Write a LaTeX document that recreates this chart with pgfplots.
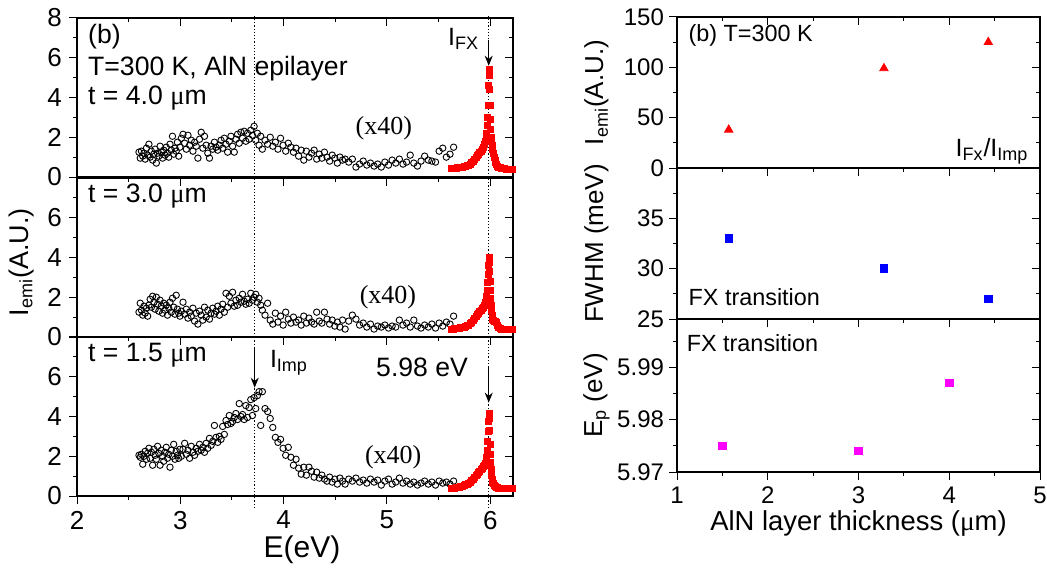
\documentclass[border=0pt]{standalone}
\usepackage{pgfplots}
\pgfplotsset{compat=1.18}
\usepackage{pgfplotstable}
\usepackage{fontspec}
\setmainfont{Liberation Sans}
\newfontfamily\timesf{Liberation Serif}
\usetikzlibrary{arrows.meta}

\pgfplotstableread{
E y1 y2 y3
2.600 1.25 1.25 2.05
2.612 0.95 1.70 1.95
2.624 1.30 1.35 2.10
2.636 1.05 1.10 1.60
2.648 1.20 1.55 2.00
2.660 0.90 1.20 2.25
2.672 1.45 1.45 1.85
2.684 1.10 1.05 2.15
2.696 1.65 1.60 2.40
2.708 1.00 1.90 1.90
2.720 1.30 1.50 2.20
2.732 0.85 2.05 1.55
2.744 1.15 1.75 2.35
2.756 1.40 1.40 2.05
2.768 0.70 2.00 1.85
2.780 1.20 1.65 2.50
2.792 1.05 1.30 2.15
2.804 1.55 1.85 1.55
2.816 1.25 1.55 2.30
2.828 0.95 1.20 2.00
2.840 1.35 1.70 1.75
2.852 1.10 1.35 2.20
2.864 1.50 1.60 2.45
2.876 1.20 1.10 1.90
2.888 1.00 1.45 2.10
2.900 1.65 1.75 1.45
2.912 1.35 1.25 2.30
2.924 2.05 1.95 2.00
2.936 1.15 1.50 2.60
2.948 1.45 1.15 1.85
2.960 1.30 2.10 2.25
2.972 1.75 1.40 2.05
2.984 1.05 1.20 1.90
2.996 1.50 1.05 2.35
3.010 1.95 1.30 2.00
3.026 2.15 1.75 2.35
3.042 1.70 1.15 2.65
3.058 1.40 1.40 2.10
3.074 2.10 0.95 2.30
3.090 1.60 1.25 1.90
3.106 1.85 1.05 2.50
3.122 1.30 1.45 2.20
3.138 1.75 0.80 2.05
3.154 1.55 1.20 2.40
3.170 0.95 0.65 2.25
3.186 1.90 1.30 2.60
3.202 2.25 1.10 2.30
3.218 1.45 0.85 2.45
3.234 2.05 1.50 2.20
3.250 1.60 1.00 2.65
3.266 1.20 1.35 2.40
3.282 0.95 0.90 2.90
3.298 1.55 1.20 2.55
3.314 1.40 1.45 2.75
3.330 1.75 1.15 3.55
3.346 1.50 1.30 2.95
3.362 1.35 1.55 2.70
3.378 1.60 1.10 3.00
3.394 1.85 1.40 2.85
3.410 1.45 1.65 3.50
3.426 1.95 1.25 3.10
3.442 1.65 2.20 3.80
3.458 1.25 1.50 3.60
3.474 1.80 2.05 4.05
3.490 2.05 1.70 3.65
3.506 1.55 2.25 3.75
3.522 1.25 1.55 3.95
3.538 1.90 1.85 4.15
3.554 2.15 1.60 3.85
3.570 1.70 1.95 4.65
3.586 2.25 1.75 4.00
3.602 1.95 2.15 4.10
3.618 2.30 1.80 3.85
3.634 1.80 1.65 4.55
3.650 2.20 1.90 3.95
3.666 1.90 1.70 4.45
3.682 2.35 2.20 4.85
3.698 2.10 1.85 4.05
3.714 2.55 2.00 4.95
3.730 1.85 2.15 4.40
3.746 2.20 1.75 5.05
3.762 1.60 1.95 5.25
3.778 2.05 1.60 3.55
3.794 1.40 1.35 5.25
3.820 1.85 1.10 4.40
3.845 1.65 1.70 4.25
3.870 2.00 0.85 3.90
3.895 1.55 0.65 3.45
3.920 1.75 1.20 2.95
3.945 1.40 0.75 2.70
3.970 1.95 1.05 2.85
3.995 1.60 0.60 2.40
4.020 1.30 1.25 2.05
4.045 1.70 0.90 2.45
4.070 1.50 0.70 1.95
4.095 1.25 1.00 1.55
4.120 1.45 0.75 1.85
4.145 1.05 0.85 1.40
4.170 1.35 0.60 1.10
4.195 0.85 1.05 1.45
4.220 1.30 0.70 1.05
4.245 1.00 0.95 1.45
4.270 1.20 0.75 1.25
4.295 1.35 0.65 0.95
4.320 0.90 1.25 1.20
4.345 1.15 0.80 0.90
4.370 0.95 0.70 1.05
4.395 1.25 1.25 0.85
4.420 1.00 0.90 0.75
4.445 0.80 0.65 0.95
4.470 1.10 0.85 0.70
4.495 0.95 0.55 0.85
4.520 0.70 0.75 0.60
4.545 1.00 0.50 0.90
4.570 0.85 0.85 0.75
4.595 0.90 0.40 0.60
4.630 0.75 0.80 0.85
4.665 0.90 1.10 0.75
4.700 0.50 0.90 0.90
4.735 0.65 0.60 0.70
4.770 0.80 0.70 0.80
4.805 0.60 0.50 0.65
4.840 0.70 0.65 0.85
4.875 0.55 0.40 0.70
4.910 0.65 0.55 0.80
4.945 0.50 0.50 0.55
4.980 0.75 0.60 0.75
5.015 0.60 0.45 0.85
5.050 0.85 0.55 0.60
5.085 0.70 0.50 0.70
5.120 0.90 0.85 0.90
5.155 0.65 0.60 0.65
5.190 0.75 0.70 0.75
5.225 1.10 0.50 0.60
5.260 0.70 0.85 0.70
5.295 0.55 0.55 0.55
5.330 0.80 0.45 0.65
5.365 1.05 0.60 0.75
5.400 0.85 0.50 0.60
5.435 0.80 0.65 0.70
5.470 0.75 0.45 0.55
5.505 1.30 0.70 0.75
5.540 1.45 0.55 0.65
5.575 1.00 0.75 0.70
5.610 1.15 0.65 0.60
5.645 1.50 1.05 0.75
}\circdata

\pgfplotstableread{
E y
5.625 0.42
5.640 0.43
5.655 0.44
5.670 0.45
5.685 0.46
5.700 0.47
5.715 0.48
5.730 0.50
5.745 0.52
5.760 0.54
5.775 0.57
5.790 0.60
5.805 0.65
5.820 0.72
5.835 0.80
5.850 0.90
5.862 1.00
5.874 1.08
5.886 1.15
5.898 1.22
5.910 1.30
5.920 1.40
5.930 1.50
5.940 1.62
5.950 1.78
5.958 1.95
5.965 2.20
5.971 2.60
5.976 3.00
5.980 3.60
5.984 4.60
5.988 5.40
5.991 5.10
5.994 4.40
5.997 3.60
6.000 2.90
6.004 2.40
6.008 2.00
6.013 1.80
6.018 1.60
6.024 1.40
6.030 1.20
6.037 1.00
6.045 0.85
6.053 0.72
6.062 0.62
6.072 0.55
6.082 0.50
6.095 0.46
6.110 0.43
6.125 0.42
6.140 0.41
6.160 0.40
6.180 0.40
6.200 0.40
6.215 0.40
}\redtop

\pgfplotstableread{
E y
5.625 0.40
5.640 0.40
5.655 0.41
5.670 0.42
5.685 0.43
5.700 0.44
5.715 0.46
5.730 0.48
5.745 0.50
5.760 0.53
5.775 0.56
5.790 0.60
5.805 0.66
5.820 0.74
5.835 0.84
5.850 0.95
5.862 1.05
5.874 1.12
5.886 1.20
5.898 1.27
5.910 1.35
5.920 1.42
5.930 1.50
5.940 1.60
5.950 1.72
5.958 1.85
5.965 2.05
5.971 2.35
5.976 2.75
5.980 3.15
5.984 3.60
5.988 4.00
5.991 3.75
5.994 3.30
5.997 2.80
6.000 2.35
6.004 1.95
6.008 1.60
6.013 1.35
6.018 1.10
6.024 0.90
6.030 0.85
6.037 0.80
6.045 0.80
6.053 0.78
6.062 0.72
6.072 0.60
6.082 0.48
6.095 0.42
6.110 0.40
6.125 0.39
6.140 0.38
6.160 0.38
6.180 0.37
6.200 0.37
6.215 0.37
}\redmid

\pgfplotstableread{
E y
5.625 0.38
5.640 0.39
5.655 0.40
5.670 0.42
5.685 0.43
5.700 0.45
5.715 0.47
5.730 0.50
5.745 0.53
5.760 0.56
5.775 0.60
5.790 0.65
5.805 0.70
5.820 0.78
5.835 0.86
5.850 0.95
5.862 1.03
5.874 1.10
5.886 1.18
5.898 1.25
5.910 1.32
5.920 1.40
5.930 1.48
5.940 1.56
5.950 1.65
5.958 1.75
5.965 1.95
5.971 2.30
5.976 2.75
5.980 3.25
5.984 3.75
5.988 4.15
5.991 3.90
5.994 3.30
5.997 2.60
6.000 2.10
6.004 1.70
6.008 1.35
6.013 1.05
6.018 0.85
6.024 0.70
6.030 0.62
6.037 0.55
6.045 0.50
6.053 0.46
6.062 0.43
6.072 0.41
6.082 0.40
6.095 0.40
6.110 0.39
6.125 0.39
6.140 0.38
6.160 0.38
6.180 0.38
6.200 0.38
6.215 0.38
}\redbot

\definecolor{magentaP}{RGB}{255,0,255}

\tikzset{
  ann/.style={font=\fontsize{13.3}{13.3}\selectfont},
}

\pgfplotsset{
  common/.style={
    scale only axis, anchor=south west,
    major tick length=4pt, minor tick length=2pt,
    clip=false,
    axis line style={line width=0.6pt},
    every tick/.style={line width=0.5pt, black},
    /pgf/number format/assume math mode=true,
  },
  mainside/.style={tick align=outside, xtick pos=bottom, ytick pos=left},
  mirrorside/.style={tick align=inside, xtick pos=top, ytick pos=right,
    xticklabels={}, yticklabels={}, axis line style={draw=none}},
  leftbase/.style={common,
    width=218pt, height=79.5pt,
    xmin=2, xmax=6.22, ymin=0, ymax=8,
    xtick={2,3,4,5,6}, minor x tick num=1,
    ytick={0,2,4,6,8}, minor y tick num=1,
    tick label style={font=\fontsize{13}{13}\selectfont},
  },
  rightbase/.style={common,
    width=181.5pt,
    xmin=1, xmax=5,
    xtick={1,2,3,4,5}, minor x tick num=1,
    tick label style={font=\fontsize{12}{12}\selectfont},
    yticklabel style={xshift=1pt},
    every axis y label/.style={at={(axis description cs:-0.222,0.5)}, rotate=90, anchor=center, font=\fontsize{13}{13}\selectfont},
  },
  circ/.style={only marks, mark=o, mark size=1.6pt, black, mark options={line width=0.45pt}},
  reds/.style={only marks, mark=square*, mark size=1.5pt, red, mark options={draw=red, fill=red}},
  dotl/.style={black, densely dotted, line width=0.6pt, no marks},
  rtop/.style={rightbase, at={(338.5pt,200.5pt)}, height=75.5pt,
    ymin=0, ymax=150, ytick={0,50,100,150}, minor y tick num=1},
  rmid/.style={rightbase, at={(338.5pt,125pt)}, height=75.5pt,
    ymin=25, ymax=40, ytick={25,30,35,40}, minor y tick num=1},
  rbot/.style={rightbase, at={(338.5pt,48.5pt)}, height=76.5pt,
    ymin=5.97, ymax=5.9992, ytick={5.97,5.98,5.99}, minor ytick={5.975,5.985,5.995}},
}

\begin{document}
\begin{tikzpicture}[x=1pt,y=1pt]
\useasboundingbox (0,0) rectangle (523.5,284.5);

% ---- left: top panel t=4.0
\begin{axis}[leftbase, mirrorside, at={(38.5pt,196pt)}]
\end{axis}
\begin{axis}[leftbase, mainside, at={(38.5pt,196pt)}, xticklabels={}]
\addplot[dotl] coordinates {(3.72,0) (3.72,8.1)};
\addplot[dotl] coordinates {(5.985,0) (5.985,8.1)};
\addplot[circ] table[x=E,y=y1] {\circdata};
\addplot[reds] table[x=E,y=y] {\redtop};
\node[ann, anchor=west] at (axis cs:2.04,7.05) {(b)};
\node[ann, anchor=west] at (axis cs:2.04,5.45) {T=300 K, AlN epilayer};
\node[ann, anchor=west] at (axis cs:2.04,3.95) {t = 4.0 {\timesf μ}m};
\node[font=\timesf\fontsize{13}{13}\selectfont] at (axis cs:4.97,2.45) {(x40)};
\node[font=\fontsize{12.5}{12.5}\selectfont, anchor=east] at (axis cs:5.96,6.95) {I$_{\mbox{\fontsize{9}{9}\selectfont FX}}$};
\draw[-{Stealth[length=5pt,width=4pt]}, line width=0.5pt] (axis cs:5.985,6.9) -- (axis cs:5.985,5.6);
\end{axis}

% ---- left: middle panel t=3.0
\begin{axis}[leftbase, mirrorside, at={(38.5pt,116pt)}]
\end{axis}
\begin{axis}[leftbase, mainside, at={(38.5pt,116pt)}, xticklabels={}, yticklabels={0,2,4,6,{}},
  ylabel={I$_{\mbox{\fontsize{9}{9}\selectfont emi}}$(A.U.)},
  every axis y label/.style={at={(axis description cs:-0.128,0.47)}, rotate=90, anchor=center, font=\fontsize{13.5}{13.5}\selectfont}]
\addplot[dotl] coordinates {(3.72,0) (3.72,8)};
\addplot[dotl] coordinates {(5.985,0) (5.985,8)};
\addplot[circ] table[x=E,y=y2] {\circdata};
\addplot[reds] table[x=E,y=y] {\redmid};
\node[ann, anchor=west] at (axis cs:2.04,7.1) {t = 3.0 {\timesf μ}m};
\node[font=\timesf\fontsize{13}{13}\selectfont] at (axis cs:5.01,2.0) {(x40)};
\end{axis}

% ---- left: bottom panel t=1.5
\begin{axis}[leftbase, mirrorside, at={(38.5pt,36.5pt)}]
\end{axis}
\begin{axis}[leftbase, mainside, at={(38.5pt,36.5pt)}, yticklabels={0,2,4,6,{}},
  xlabel={E(eV)},
  every axis x label/.style={at={(axis description cs:0.516,-0.34)}, anchor=center, font=\fontsize{15}{15}\selectfont}]
\addplot[dotl] coordinates {(3.72,-0.6) (3.72,8)};
\addplot[dotl] coordinates {(5.985,-0.6) (5.985,8)};
\addplot[circ] table[x=E,y=y3] {\circdata};
\addplot[reds] table[x=E,y=y] {\redbot};
\node[ann, anchor=west] at (axis cs:2.04,7.1) {t = 1.5 {\timesf μ}m};
\node[font=\fontsize{12.5}{12.5}\selectfont, anchor=west] at (axis cs:3.8,6.7) {I$_{\mbox{\fontsize{9}{9}\selectfont Imp}}$};
\draw[-{Stealth[length=5pt,width=4pt]}, line width=0.5pt] (axis cs:3.72,7.5) -- (axis cs:3.72,5.45);
\node[ann] at (axis cs:5.34,6.45) {5.98 eV};
\draw[-{Stealth[length=5pt,width=4pt]}, line width=0.5pt] (axis cs:5.985,6.5) -- (axis cs:5.985,4.7);
\node[font=\timesf\fontsize{13}{13}\selectfont] at (axis cs:5.06,1.95) {(x40)};
\end{axis}

% ---- right: top
\begin{axis}[rtop, mirrorside]
\end{axis}
\begin{axis}[rtop, mainside, xticklabels={},
  ylabel={I$_{\mbox{\fontsize{9}{9}\selectfont emi}}$(A.U.)}]
\addplot[only marks, mark=triangle*, mark size=2.4pt, red, mark options={fill=red,draw=red}] coordinates {(1.57,38) (3.28,99) (4.43,125)};
\node[font=\fontsize{11.7}{11.7}\selectfont, anchor=west] at (axis cs:1.05,132) {(b) T=300 K};
\node[font=\fontsize{12.5}{12.5}\selectfont, anchor=east] at (axis cs:4.95,17) {I$_{\mbox{\fontsize{9}{9}\selectfont Fx}}$/I$_{\mbox{\fontsize{9}{9}\selectfont Imp}}$};
\end{axis}

% ---- right: middle
\begin{axis}[rmid, mirrorside]
\end{axis}
\begin{axis}[rmid, mainside, xticklabels={}, yticklabels={25,30,35,{}},
  ylabel={FWHM (meV)}]
\addplot[only marks, mark=square*, mark size=1.9pt, blue, mark options={fill=blue,draw=blue}] coordinates {(1.57,33) (3.28,30) (4.43,27)};
\node[font=\fontsize{11.7}{11.7}\selectfont, anchor=west] at (axis cs:1.05,27.2) {FX transition};
\end{axis}

% ---- right: bottom
\begin{axis}[rbot, mirrorside]
\end{axis}
\begin{axis}[rbot, mainside,
  yticklabel style={/pgf/number format/.cd, fixed, precision=2, zerofill},
  ylabel={E$_{\mbox{\fontsize{9}{9}\selectfont p}}$ (eV)},
  xlabel={AlN layer thickness ({\timesf μ}m)},
  every axis x label/.style={at={(axis description cs:0.5,-0.335)}, anchor=center, font=\fontsize{13.7}{13.7}\selectfont}]
\addplot[only marks, mark=square*, mark size=1.9pt, magentaP, mark options={fill=magentaP,draw=magentaP}] coordinates {(1.5,5.975) (3.0,5.974) (4.0,5.987)};
\node[font=\fontsize{11.7}{11.7}\selectfont, anchor=west] at (axis cs:1.03,5.9945) {FX transition};
\end{axis}
\end{tikzpicture}
\end{document}
